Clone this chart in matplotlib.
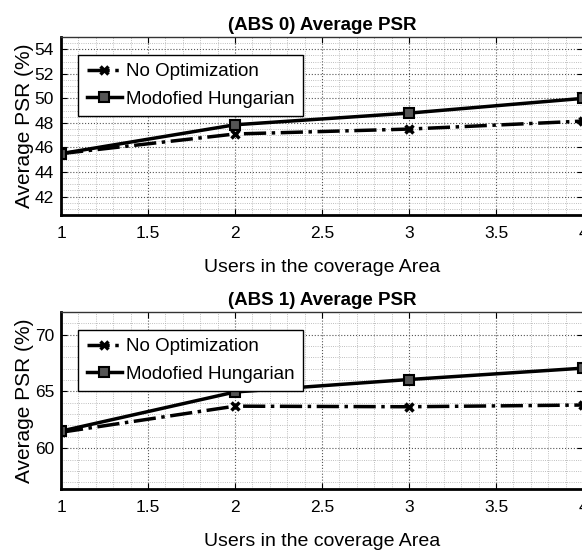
import numpy as np
import matplotlib.pyplot as plt
from matplotlib.ticker import MultipleLocator

users = [1, 2, 3, 4]
abs0_no_opt = [45.5, 47.1, 47.5, 48.15]
abs0_hungarian = [45.5, 47.85, 48.8, 50.0]
abs1_no_opt = [61.4, 63.7, 63.65, 63.8]
abs1_hungarian = [61.5, 64.95, 66.05, 67.05]

plt.rcParams['font.family'] = ['Liberation Sans', 'DejaVu Sans']

fig = plt.figure(figsize=(5.82, 5.52), dpi=100)
W, H = 582, 552


def make_axes(rect_px):
    x0, y0, x1, y1 = rect_px
    return fig.add_axes([x0 / W, 1 - y1 / H, (x1 - x0) / W, (y1 - y0) / H])


def style_axes(ax, title, ylim, ymajor, yminor):
    ax.set_xlim(1, 4)
    ax.set_ylim(*ylim)
    ax.xaxis.set_major_locator(MultipleLocator(0.5))
    ax.xaxis.set_minor_locator(MultipleLocator(0.1))
    ax.yaxis.set_major_locator(MultipleLocator(ymajor))
    ax.yaxis.set_minor_locator(MultipleLocator(yminor))
    ax.set_xticks([1, 1.5, 2, 2.5, 3, 3.5, 4])
    ax.set_xticklabels(['1', '1.5', '2', '2.5', '3', '3.5', '4'])
    ax.grid(True, which='major', linestyle=':', color='#555555', linewidth=0.8)
    ax.grid(True, which='minor', linestyle=':', color='#aaaaaa', linewidth=0.6)
    ax.tick_params(which='both', direction='in', top=True, right=True, labelsize=12.5)
    ax.tick_params(axis='x', pad=8)
    ax.tick_params(axis='y', pad=5)
    ax.tick_params(which='minor', length=0)
    ax.tick_params(which='major', length=4)
    for s in ax.spines.values():
        s.set_linewidth(1.0)
        s.set_color('#333333')
    ax.spines['left'].set_linewidth(2)
    ax.spines['bottom'].set_linewidth(2)
    ax.spines['left'].set_color('black')
    ax.spines['bottom'].set_color('black')
    ax.set_title(title, fontsize=13.5, fontweight='bold', pad=5)
    ax.set_xlabel('Users in the coverage Area', fontsize=14, labelpad=13)
    ax.set_ylabel('Average PSR (%)', fontsize=15)
    ax.yaxis.set_label_coords(-0.052, 0.5)


def draw(ax, no_opt, hung):
    ax.plot(users, no_opt, linestyle='-.', color='black', linewidth=2.5,
            marker='x', markersize=6, markeredgewidth=2.5, label='No Optimization')
    ax.plot(users, hung, linestyle='-', color='black', linewidth=2.5,
            marker='s', markersize=6.5, markerfacecolor='#555555', markeredgewidth=1.5,
            label='Modofied Hungarian')
    leg = ax.legend(loc='upper left', fontsize=13.5, frameon=True, fancybox=False,
                    edgecolor='black', framealpha=1, handlelength=1.9,
                    handletextpad=0.2, borderpad=0.45, labelspacing=0.55,
                    borderaxespad=0, bbox_to_anchor=(0.033, 0.9))
    leg.get_frame().set_linewidth(1.0)


ax1 = make_axes((61, 37, 583, 215))
draw(ax1, abs0_no_opt, abs0_hungarian)
style_axes(ax1, '(ABS 0) Average PSR', (40.5, 55), 2, 0.5)

ax2 = make_axes((61, 312, 583, 489))
draw(ax2, abs1_no_opt, abs1_hungarian)
style_axes(ax2, '(ABS 1) Average PSR', (56.4, 72), 5, 1)

fig.savefig('out.png', dpi=100)
